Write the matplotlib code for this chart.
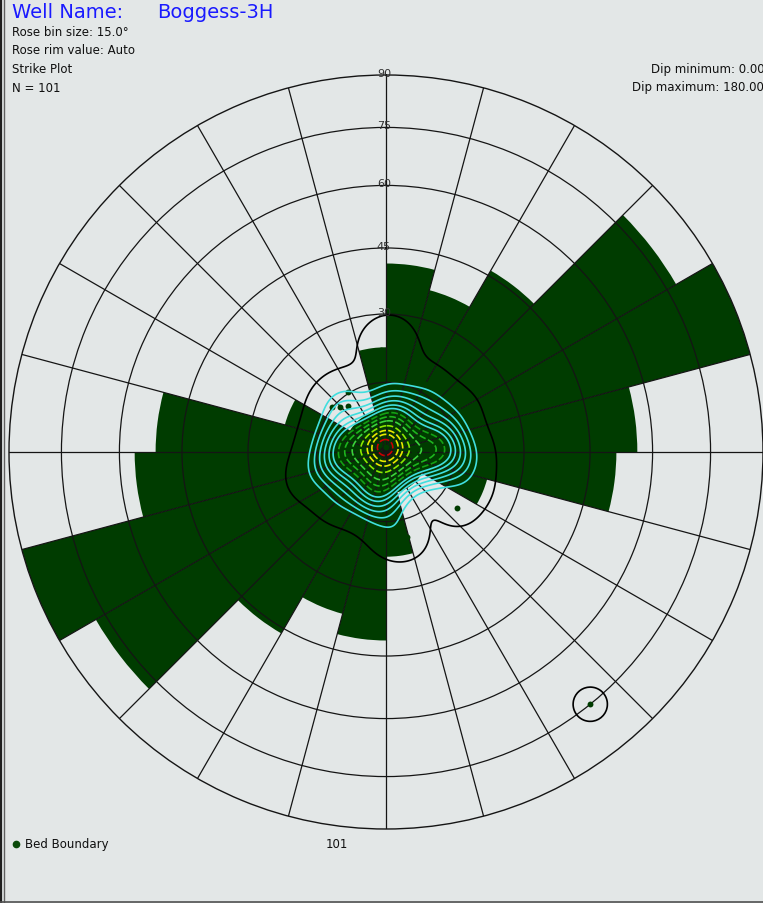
import numpy as np
import matplotlib
matplotlib.use("Agg")
import matplotlib.pyplot as plt
from matplotlib.lines import Line2D

# rose bins (strike azimuth, 15 deg bins over 0-180, mirrored for the other half)
bin_start = np.arange(0, 180, 15)
bin_count = [9, 8, 10, 16, 18, 12, 11, 5, 2, 2, 2, 5]
rim_value = 18

# dip circles of the equal-area net
ring_dips = [15, 30, 45, 60, 75]
ring_labels = ["30", "45", "60", "75", "90"]
label_dips = [30, 45, 60, 75, 90]

# poles of bed boundaries: trend (deg), dip (deg), number of readings
pole_trend = [0, 45, 135, 225, 315,
              0, 45, 90, 135, 180, 225, 270, 315,
              22, 68, 90, 112, 202, 248, 270, 292, 0, 180,
              0, 45, 75, 95, 180, 225, 260, 285,
              310, 314, 320, 328,
              128, 141, 90, 100, 2, 357, 6, 166, 176, 190, 112, 30, 250, 60]
pole_dip = [1, 2, 2, 2, 2,
            6, 6, 6, 6, 6, 6, 6, 6,
            10, 10, 10, 10, 10, 10, 10, 10, 9, 9,
            14, 14, 14, 14, 14, 14, 14, 14,
            15.1, 13.9, 12.9, 15.3,
            19.5, 75, 18, 17, 25, 22, 21, 19, 18, 12, 20, 17, 18, 18]
pole_count = [4, 2, 2, 2, 2,
              4, 3, 3, 3, 4, 3, 3, 4,
              3, 3, 3, 3, 3, 3, 3, 3, 2, 2,
              1, 2, 3, 3, 1, 2, 2, 1,
              1, 1, 1, 1,
              1, 1, 1, 1, 1, 1, 1, 1, 1, 1, 1, 1, 1, 1]

bg = "#e3e7e7"
rose_green = "#003c00"
W, H = 763, 904

def eq_area(d):
    return np.sqrt(2) * np.sin(np.radians(d) / 2)

fig = plt.figure(figsize=(W / 100, H / 100), dpi=100, facecolor=bg)

cx, cy, R = 386, 453, 377
ax = fig.add_axes([(cx - R) / W, (H - cy - R) / H, 2 * R / W, 2 * R / H],
                  projection="polar")
ax.set_facecolor(bg)
ax.set_theta_zero_location("N")
ax.set_theta_direction(-1)
ax.set_ylim(0, 1)

# rose wedges
theta = np.radians(np.concatenate([bin_start, bin_start + 180]))
heights = np.array(bin_count + bin_count) / rim_value
ax.bar(theta, heights, width=np.radians(15), align="edge", bottom=0,
       color=rose_green, edgecolor="none", zorder=1)

# net grid over the rose
ax.set_xticks(np.radians(np.arange(0, 360, 15)))
ax.set_yticks(eq_area(np.array(ring_dips)))
ax.set_xticklabels([])
ax.set_yticklabels([])
ax.set_axisbelow(False)
ax.grid(True, color="#151515", lw=0.9)
ax.spines["polar"].set_color("#151515")
ax.spines["polar"].set_linewidth(1.0)
ax.tick_params(length=0)

for lab, d in zip(ring_labels, label_dips):
    ax.annotate(lab, (0, eq_area(d)), xytext=(-1.5, 1.5), textcoords="offset points",
                ha="center", va="center", fontsize=8, color="#303030",
                family="DejaVu Sans", zorder=5, annotation_clip=False)

# pole density contours
rho = eq_area(np.array(pole_dip, float))
tr = np.radians(pole_trend)
px, py = rho * np.sin(tr), rho * np.cos(tr)
th = np.linspace(0, 2 * np.pi, 721)
rr = np.linspace(0, 1, 601)
TH, RR = np.meshgrid(th, rr)
X, Y = RR * np.sin(TH), RR * np.cos(TH)
sig = 0.045
Z = np.zeros_like(X)
for x0, y0, w in zip(px, py, pole_count):
    Z += w * np.exp(-((X - x0) ** 2 + (Y - y0) ** 2) / (2 * sig ** 2))

zmax = Z.max()
fr = [0.17, 0.24, 0.31, 0.38, 0.45, 0.51, 0.58, 0.65, 0.72, 0.80, 0.87, 0.92, 0.97]
levels = [0.6] + [f * zmax for f in fr]
colors = ["#000000",
          "#40dede", "#40dede", "#40dede", "#40dede", "#40dede", "#40dede",
          "#14a014", "#1eb41e", "#3cd23c", "#8ce600", "#e8e800", "#e8e800",
          "#c80000"]
styles = ["solid"] * 7 + [(0, (4, 1.5))] * 7
ax.contour(TH, RR, Z, levels=levels, colors=colors, linewidths=1.2,
           linestyles=styles, zorder=4)

ax.scatter(tr, rho, s=18, color=rose_green, zorder=3, linewidths=0)

# header and footer text
def fx(x):
    return x / W

def fy(y):
    return 1 - y / H

fs = 8.5
fig.text(fx(12), fy(12), "Well Name:", color="#1a1aff", fontsize=14,
         family="DejaVu Sans", va="center")
fig.text(fx(157), fy(12), "Boggess-3H", color="#1a1aff", fontsize=14,
         family="DejaVu Sans", va="center")
info = ["Rose bin size: 15.0\u00b0", "Rose rim value: Auto", "Strike Plot", "N = 101"]
for i, s in enumerate(info):
    fig.text(fx(12), fy(32 + 18.8 * i), s, fontsize=fs, family="DejaVu Sans",
             va="center", color="#101010")
fig.text(fx(651), fy(70), "Dip minimum: 0.00", fontsize=fs, family="DejaVu Sans",
         va="center", color="#101010")
fig.text(fx(632), fy(88), "Dip maximum: 180.00", fontsize=fs, family="DejaVu Sans",
         va="center", color="#101010")

fig.add_artist(Line2D([fx(16)], [fy(845)], marker="o", ms=4.5, color="#0a4a0a",
                      transform=fig.transFigure))
fig.text(fx(25), fy(845), "Bed Boundary", fontsize=fs, family="DejaVu Sans",
         va="center", color="#101010")
fig.text(fx(337), fy(845), "101", fontsize=fs, family="DejaVu Sans",
         va="center", ha="center", color="#101010")

# window border
fig.add_artist(Line2D([fx(1), fx(1)], [0, 1], color="#202020", lw=1.6,
                      transform=fig.transFigure))
fig.add_artist(Line2D([fx(4), fx(4)], [0, 1], color="#606060", lw=1.0,
                      transform=fig.transFigure))
fig.add_artist(Line2D([0, 1], [fy(902.5), fy(902.5)], color="#505050", lw=1.2,
                      transform=fig.transFigure))

fig.savefig("out.png", dpi=100, facecolor=bg)
